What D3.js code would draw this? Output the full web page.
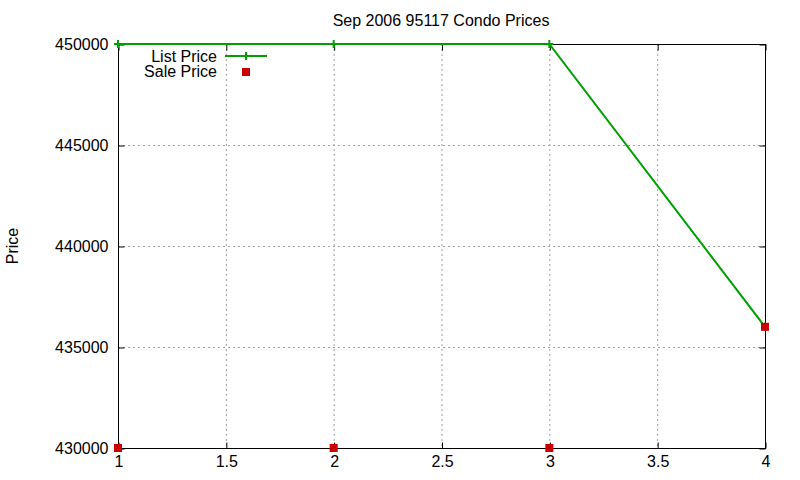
<!DOCTYPE html>
<html><head><meta charset="utf-8">
<script src="https://cdn.jsdelivr.net/npm/d3@7"></script>
<style>body{margin:0;background:#fff}svg{display:block}text{font-family:"Liberation Sans",Arial,sans-serif;fill:#000}</style>
</head><body><svg id="c" width="800" height="480"></svg>
<script>
const xs = [1, 2, 3, 4];
const listPrice = [450000, 450000, 450000, 436000];
const salePrice = [430000, 430000, 430000, 436000];
const xTicks = [1, 1.5, 2, 2.5, 3, 3.5, 4];
const yTicks = [430000, 435000, 440000, 445000, 450000];
const title = "Sep 2006 95117 Condo Prices";
const yLabel = "Price";
const seriesNames = ["List Price", "Sale Price"];

const svg = d3.select("#c");
const L = 118, R = 765, T = 44, B = 448;
const FS = 16;
const x = d3.scaleLinear().domain([1, 4]).range([L, R]);
const y = d3.scaleLinear().domain([430000, 450000]).range([B, T]);
const green = "#00a000", red = "#cc0000";

// grid
const g = svg.append("g");
g.selectAll(".gx").data(xTicks.slice(1, -1)).join("line")
  .attr("x1", d => x(d) + 0.5).attr("x2", d => x(d) + 0.5).attr("y1", T).attr("y2", B)
  .attr("stroke", "#a0a0a0").attr("stroke-dasharray", "2,3");
g.selectAll(".gy").data(yTicks.slice(1, -1)).join("line")
  .attr("y1", d => y(d) + 0.5).attr("y2", d => y(d) + 0.5).attr("x1", L).attr("x2", R)
  .attr("stroke", "#a0a0a0").attr("stroke-dasharray", "2,3");

// axes with inward ticks
const fmt = d3.format("d");
const ax = d3.axisBottom(x).tickValues(xTicks).tickSize(-6).tickPadding(7).tickFormat(d => String(d));
const axT = d3.axisTop(x).tickValues(xTicks).tickSize(-6).tickFormat("");
const ay = d3.axisLeft(y).tickValues(yTicks).tickSize(-6).tickPadding(10).tickFormat(fmt);
const ayR = d3.axisRight(y).tickValues(yTicks).tickSize(-6).tickFormat("");
function style(s){ s.select(".domain").remove(); s.selectAll("line").attr("stroke","#000"); s.selectAll("text").attr("font-size",FS).attr("font-family","Liberation Sans, Arial, sans-serif").attr("fill","#000"); }
svg.append("g").attr("transform", `translate(0.5,${B + 0.5})`).call(ax).call(style);
svg.append("g").attr("transform", `translate(0.5,${T + 0.5})`).call(axT).call(style);
svg.append("g").attr("transform", `translate(${L + 0.5},0.5)`).call(ay).call(style);
svg.append("g").attr("transform", `translate(${R + 0.5},0.5)`).call(ayR).call(style);

// border
svg.append("rect").attr("x", L + 0.5).attr("y", T + 0.5).attr("width", R - L).attr("height", B - T)
  .attr("fill", "none").attr("stroke", "#000").attr("stroke-width", 1);

// list price line
const data = xs.map((d, i) => ({x: d, lp: listPrice[i], sp: salePrice[i]}));
svg.append("path").datum(data)
  .attr("d", d3.line().x(d => x(d.x)).y(d => y(d.lp)))
  .attr("fill", "none").attr("stroke", green).attr("stroke-width", 2);
const plus = (sel, px, py) => {
  sel.append("line").attr("x1", px - 4).attr("x2", px + 4).attr("y1", py).attr("y2", py).attr("stroke", green).attr("stroke-width", 2);
  sel.append("line").attr("x1", px).attr("x2", px).attr("y1", py - 4).attr("y2", py + 4).attr("stroke", green).attr("stroke-width", 2);
};
const pg = svg.append("g");
data.forEach(d => plus(pg, x(d.x), y(d.lp)));

// sale price squares
svg.append("g").selectAll("rect").data(data).join("rect")
  .attr("x", d => x(d.x) - 4).attr("y", d => y(d.sp) - 4).attr("width", 8).attr("height", 8).attr("fill", red);

// title and y label
svg.append("text").attr("x", 441).attr("y", 26).attr("text-anchor", "middle").attr("font-size", FS).text(title);
svg.append("text").attr("transform", "translate(18,246) rotate(-90)").attr("text-anchor", "middle").attr("font-size", FS).text(yLabel);

// legend
const lg = svg.append("g");
lg.append("text").attr("x", 217).attr("y", 62).attr("text-anchor", "end").attr("font-size", FS).text(seriesNames[0]);
lg.append("line").attr("x1", 225).attr("x2", 267).attr("y1", 56).attr("y2", 56).attr("stroke", green).attr("stroke-width", 2);
plus(lg, 246, 56);
lg.append("text").attr("x", 217).attr("y", 77).attr("text-anchor", "end").attr("font-size", FS).text(seriesNames[1]);
lg.append("rect").attr("x", 242).attr("y", 68).attr("width", 8).attr("height", 8).attr("fill", red);
</script></body></html>
